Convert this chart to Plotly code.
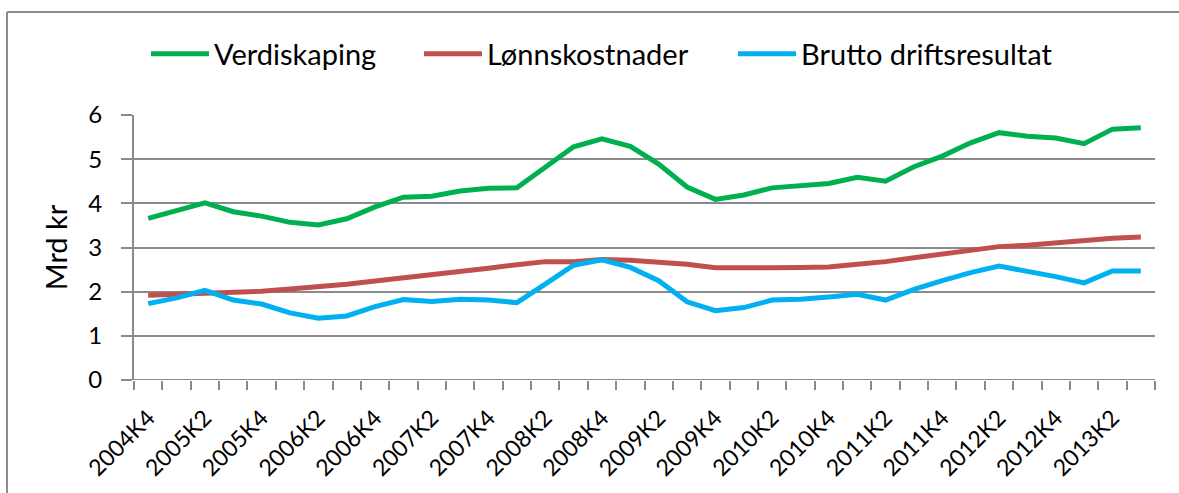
import plotly.graph_objects as go

quarters = ["2004K4",
            "2005K1", "2005K2", "2005K3", "2005K4",
            "2006K1", "2006K2", "2006K3", "2006K4",
            "2007K1", "2007K2", "2007K3", "2007K4",
            "2008K1", "2008K2", "2008K3", "2008K4",
            "2009K1", "2009K2", "2009K3", "2009K4",
            "2010K1", "2010K2", "2010K3", "2010K4",
            "2011K1", "2011K2", "2011K3", "2011K4",
            "2012K1", "2012K2", "2012K3", "2012K4",
            "2013K1", "2013K2", "2013K3"]

verdiskaping = [3.66, 3.83, 4.01, 3.81, 3.71, 3.57, 3.51, 3.65, 3.92, 4.14, 4.16, 4.28,
                4.34, 4.35, 4.83, 5.28, 5.46, 5.29, 4.89, 4.37, 4.09, 4.19, 4.35, 4.40,
                4.45, 4.59, 4.50, 4.83, 5.07, 5.37, 5.60, 5.52, 5.48, 5.35, 5.68, 5.71]

lonnskostnader = [1.92, 1.94, 1.97, 1.99, 2.01, 2.06, 2.11, 2.17, 2.24, 2.31, 2.37, 2.46,
                  2.53, 2.61, 2.68, 2.68, 2.73, 2.71, 2.66, 2.62, 2.54, 2.53, 2.54, 2.55,
                  2.56, 2.62, 2.68, 2.77, 2.85, 2.95, 3.02, 3.05, 3.11, 3.15, 3.21, 3.24]

brutto = [1.73, 1.86, 2.03, 1.81, 1.72, 1.52, 1.40, 1.45, 1.66, 1.82, 1.78, 1.83,
          1.81, 1.75, 2.17, 2.60, 2.72, 2.55, 2.25, 1.77, 1.57, 1.64, 1.81, 1.83,
          1.88, 1.94, 1.81, 2.05, 2.25, 2.43, 2.58, 2.47, 2.34, 2.20, 2.47, 2.47]

series_names = ["Verdiskaping", "Lønnskostnader", "Brutto driftsresultat"]
series_colors = ["#00B050", "#C0504D", "#00B0F0"]

FONT = "Lato"
GRID = "#8a8a8a"

x = list(range(len(quarters)))

W, H = 1179, 493
L, R, T, B = 134, 24, 115, 113
pw, ph = W - L - R, H - T - B

def px_x(p):
    return (p - L) / pw

def px_y(p):
    return (H - B - p) / ph

legend_ids = ["legend", "legend2", "legend3"]
legend_left_px = [146, 419, 733]

fig = go.Figure()
for name, vals, col, lid in zip(series_names, [verdiskaping, lonnskostnader, brutto],
                                series_colors, legend_ids):
    fig.add_trace(go.Scatter(x=x, y=vals, mode="lines", name=name, legend=lid,
                             line=dict(color=col, width=5)))

legend_common = dict(orientation="h", xanchor="left", y=px_y(54), yanchor="middle",
                     font=dict(family=FONT, size=29, color="black"),
                     itemwidth=58, bgcolor="rgba(0,0,0,0)")

fig.update_layout(
    width=W, height=H,
    margin=dict(l=L, r=R, t=T, b=B),
    paper_bgcolor="white", plot_bgcolor="white",
    font=dict(family=FONT, size=22, color="black"),
    showlegend=True,
    legend=dict(x=px_x(legend_left_px[0]), **legend_common),
    legend2=dict(x=px_x(legend_left_px[1]), **legend_common),
    legend3=dict(x=px_x(legend_left_px[2]), **legend_common),
    xaxis=dict(range=[-0.5, len(quarters) - 0.5],
               tickmode="array", tickvals=x[::2], ticktext=quarters[::2],
               tickangle=-45, ticks="", showgrid=False, zeroline=False,
               showline=False, ticklabelstandoff=19,
               tickfont=dict(family=FONT, size=23, color="black"),
               minor=dict(tick0=-0.5, dtick=1, ticks="outside", ticklen=9,
                          tickcolor=GRID, tickwidth=2, showgrid=False)),
    yaxis=dict(range=[0, 6], dtick=1, ticks="outside", ticklen=11, tickcolor=GRID,
               tickwidth=2, showgrid=True, gridcolor=GRID, gridwidth=2,
               zeroline=False, showline=True, linecolor=GRID, linewidth=2,
               ticklabelstandoff=14,
               tickfont=dict(family=FONT, size=24, color="black"),
               title=dict(text="Mrd kr", font=dict(family=FONT, size=29, color="black"),
                          standoff=12)),
)

# bottom axis line (category axis) drawn on the 0 gridline
fig.add_shape(type="line", xref="paper", yref="y", x0=0, x1=1, y0=0, y1=0,
              line=dict(color=GRID, width=2), layer="below")

# chart frame (top and left edges visible)
fig.add_shape(type="line", xref="paper", yref="paper",
              x0=px_x(7), x1=px_x(1179), y0=px_y(12), y1=px_y(12),
              line=dict(color="#8c8c8c", width=2))
fig.add_shape(type="line", xref="paper", yref="paper",
              x0=px_x(7), x1=px_x(7), y0=px_y(12), y1=px_y(493),
              line=dict(color="#8c8c8c", width=2))

fig.write_html("out.html", config={"displayModeBar": False},
               post_script=("document.documentElement.style.margin='0';"
                            "document.documentElement.style.overflow='hidden';"
                            "document.body.style.margin='0';"
                            "document.body.style.overflow='hidden';"))
